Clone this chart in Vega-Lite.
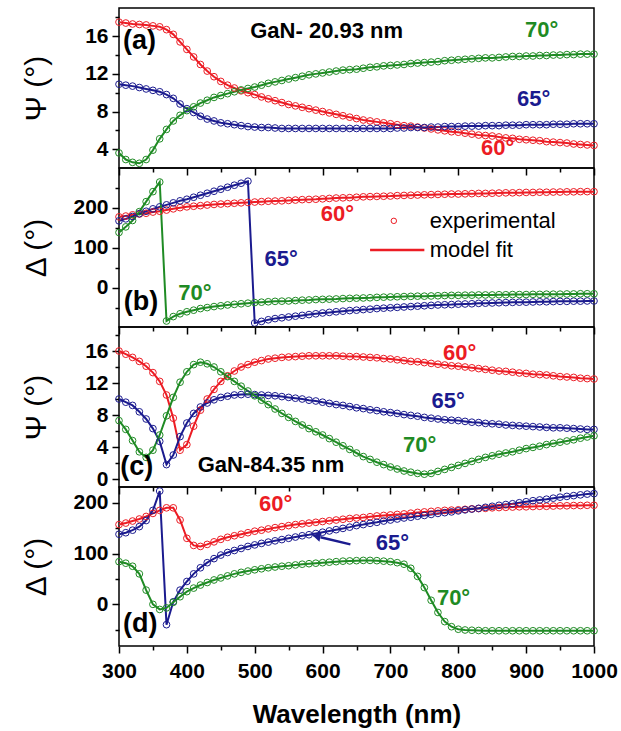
{
"$schema": "https://vega.github.io/schema/vega-lite/v6.json",
"padding": {"left": 20, "top": 7, "right": 5, "bottom": 5},
"spacing": 0,
"bounds": "flush",
"config": {
 "font": "Liberation Sans",
 "view": {"stroke": "black", "strokeWidth": 1.5},
 "axis": {"domain": false, "grid": false, "tickColor": "black", "tickWidth": 1.5, "labelFont": "Liberation Sans", "labelFontSize": 21, "labelFontWeight": "bold", "labelColor": "black", "titleFont": "Liberation Sans", "titleFontSize": 30, "titleFontWeight": "normal", "titleColor": "black", "labelOverlap": false, "labelFlush": false}
},
"datasets": {
"pa": [
{"w":300,"deg60":17.5,"deg65":10.9,"deg70":3.6},{"w":310,"deg60":17.4,"deg65":10.8,"deg70":2.9},{"w":320,"deg60":17.3,"deg65":10.7,"deg70":2.6},{"w":330,"deg60":17.25,"deg65":10.55,"deg70":2.5},{"w":340,"deg60":17.2,"deg65":10.4,"deg70":2.9},{"w":350,"deg60":17.1,"deg65":10.25,"deg70":3.9},{"w":360,"deg60":17.0,"deg65":10.1,"deg70":5.1},{"w":370,"deg60":16.7,"deg65":9.8,"deg70":6.1},{"w":380,"deg60":16.2,"deg65":9.4,"deg70":7.0},{"w":390,"deg60":15.4,"deg65":8.8,"deg70":7.6},
{"w":400,"deg60":14.6,"deg65":8.3,"deg70":8.1},{"w":410,"deg60":13.8,"deg65":7.9,"deg70":8.5},{"w":420,"deg60":13.0,"deg65":7.5,"deg70":8.9},{"w":430,"deg60":12.3,"deg65":7.2,"deg70":9.2},{"w":440,"deg60":11.7,"deg65":7.0,"deg70":9.5},{"w":450,"deg60":11.2,"deg65":6.8,"deg70":9.7},{"w":460,"deg60":10.8,"deg65":6.7,"deg70":9.9},{"w":470,"deg60":10.5,"deg65":6.6,"deg70":10.1},{"w":480,"deg60":10.2,"deg65":6.5,"deg70":10.3},{"w":490,"deg60":10.0,"deg65":6.4,"deg70":10.45},
{"w":500,"deg60":9.8,"deg65":6.35,"deg70":10.6},{"w":510,"deg60":9.55,"deg65":6.3,"deg70":10.8},{"w":520,"deg60":9.35,"deg65":6.3,"deg70":11.0},{"w":530,"deg60":9.15,"deg65":6.25,"deg70":11.15},{"w":540,"deg60":8.95,"deg65":6.2,"deg70":11.3},{"w":550,"deg60":8.75,"deg65":6.2,"deg70":11.45},{"w":560,"deg60":8.6,"deg65":6.2,"deg70":11.6},{"w":570,"deg60":8.45,"deg65":6.2,"deg70":11.75},{"w":580,"deg60":8.3,"deg65":6.2,"deg70":11.9},{"w":590,"deg60":8.15,"deg65":6.2,"deg70":12.0},
{"w":600,"deg60":8.0,"deg65":6.2,"deg70":12.1},{"w":610,"deg60":7.85,"deg65":6.2,"deg70":12.2},{"w":620,"deg60":7.7,"deg65":6.2,"deg70":12.3},{"w":630,"deg60":7.55,"deg65":6.2,"deg70":12.4},{"w":640,"deg60":7.4,"deg65":6.2,"deg70":12.45},{"w":650,"deg60":7.25,"deg65":6.2,"deg70":12.5},{"w":660,"deg60":7.1,"deg65":6.2,"deg70":12.6},{"w":670,"deg60":7.0,"deg65":6.2,"deg70":12.7},{"w":680,"deg60":6.9,"deg65":6.2,"deg70":12.75},{"w":690,"deg60":6.8,"deg65":6.2,"deg70":12.85},
{"w":700,"deg60":6.7,"deg65":6.2,"deg70":12.9},{"w":710,"deg60":6.6,"deg65":6.25,"deg70":12.95},{"w":720,"deg60":6.5,"deg65":6.25,"deg70":13.0},{"w":730,"deg60":6.45,"deg65":6.3,"deg70":13.1},{"w":740,"deg60":6.35,"deg65":6.3,"deg70":13.15},{"w":750,"deg60":6.25,"deg65":6.3,"deg70":13.2},{"w":760,"deg60":6.15,"deg65":6.35,"deg70":13.25},{"w":770,"deg60":6.05,"deg65":6.35,"deg70":13.3},{"w":780,"deg60":5.95,"deg65":6.4,"deg70":13.4},{"w":790,"deg60":5.85,"deg65":6.4,"deg70":13.45},
{"w":800,"deg60":5.8,"deg65":6.4,"deg70":13.5},{"w":810,"deg60":5.7,"deg65":6.45,"deg70":13.55},{"w":820,"deg60":5.6,"deg65":6.45,"deg70":13.6},{"w":830,"deg60":5.5,"deg65":6.45,"deg70":13.65},{"w":840,"deg60":5.45,"deg65":6.5,"deg70":13.7},{"w":850,"deg60":5.4,"deg65":6.5,"deg70":13.7},{"w":860,"deg60":5.3,"deg65":6.5,"deg70":13.75},{"w":870,"deg60":5.2,"deg65":6.55,"deg70":13.8},{"w":880,"deg60":5.15,"deg65":6.55,"deg70":13.85},{"w":890,"deg60":5.05,"deg65":6.55,"deg70":13.85},
{"w":900,"deg60":5.0,"deg65":6.6,"deg70":13.9},{"w":910,"deg60":4.95,"deg65":6.6,"deg70":13.9},{"w":920,"deg60":4.9,"deg65":6.6,"deg70":13.95},{"w":930,"deg60":4.8,"deg65":6.6,"deg70":13.95},{"w":940,"deg60":4.75,"deg65":6.65,"deg70":14.0},{"w":950,"deg60":4.7,"deg65":6.65,"deg70":14.0},{"w":960,"deg60":4.65,"deg65":6.65,"deg70":14.05},{"w":970,"deg60":4.55,"deg65":6.7,"deg70":14.05},{"w":980,"deg60":4.5,"deg65":6.7,"deg70":14.1},{"w":990,"deg60":4.45,"deg65":6.7,"deg70":14.1},
{"w":1000,"deg60":4.4,"deg65":6.7,"deg70":14.1}
],
"pb": [
{"w":300,"deg60":177,"deg65":167,"deg70":138},{"w":310,"deg60":179,"deg65":172,"deg70":152},{"w":320,"deg60":182,"deg65":178,"deg70":168},{"w":330,"deg60":184,"deg65":185,"deg70":190},{"w":340,"deg60":186,"deg65":191,"deg70":215},{"w":350,"deg60":189,"deg65":197,"deg70":240},{"w":360,"deg60":191,"deg65":202,"deg70":264},{"w":370,"deg60":194,"deg65":207,"deg70":-83},{"w":380,"deg60":197,"deg65":212,"deg70":-72},{"w":390,"deg60":200,"deg65":217,"deg70":-65},
{"w":400,"deg60":202,"deg65":221,"deg70":-60},{"w":410,"deg60":203.5,"deg65":226,"deg70":-56},{"w":420,"deg60":205,"deg65":231,"deg70":-52},{"w":430,"deg60":206.5,"deg65":236,"deg70":-49.5},{"w":440,"deg60":208,"deg65":241,"deg70":-47},{"w":450,"deg60":209,"deg65":246,"deg70":-45},{"w":460,"deg60":210,"deg65":251,"deg70":-43},{"w":470,"deg60":211,"deg65":256,"deg70":-41.5},{"w":480,"deg60":212,"deg65":261,"deg70":-40},{"w":490,"deg60":213,"deg65":266,"deg70":-38.5},
{"w":500,"deg60":214,"deg65":-88,"deg70":-37},{"w":510,"deg60":215,"deg65":-84,"deg70":-36},{"w":520,"deg60":216,"deg65":-80,"deg70":-35},{"w":530,"deg60":216.5,"deg65":-77,"deg70":-34},{"w":540,"deg60":217,"deg65":-75,"deg70":-33.5},{"w":550,"deg60":218,"deg65":-73,"deg70":-33},{"w":560,"deg60":219,"deg65":-71,"deg70":-32},{"w":570,"deg60":220,"deg65":-69,"deg70":-31},{"w":580,"deg60":220.5,"deg65":-67,"deg70":-30.5},{"w":590,"deg60":221,"deg65":-65,"deg70":-29.5},
{"w":600,"deg60":222,"deg65":-63,"deg70":-29},{"w":610,"deg60":223,"deg65":-61.5,"deg70":-28.5},{"w":620,"deg60":224,"deg65":-60,"deg70":-28},{"w":630,"deg60":224.5,"deg65":-58.5,"deg70":-27},{"w":640,"deg60":225,"deg65":-57,"deg70":-26.5},{"w":650,"deg60":226,"deg65":-56,"deg70":-26},{"w":660,"deg60":227,"deg65":-54.5,"deg70":-25.5},{"w":670,"deg60":227.5,"deg65":-53.5,"deg70":-25},{"w":680,"deg60":228,"deg65":-52,"deg70":-24},{"w":690,"deg60":228.5,"deg65":-51,"deg70":-23.5},
{"w":700,"deg60":229,"deg65":-50,"deg70":-23},{"w":710,"deg60":230,"deg65":-49,"deg70":-22.5},{"w":720,"deg60":230.5,"deg65":-48,"deg70":-22},{"w":730,"deg60":231,"deg65":-47,"deg70":-21.5},{"w":740,"deg60":231.5,"deg65":-46,"deg70":-21},{"w":750,"deg60":232,"deg65":-45,"deg70":-21},{"w":760,"deg60":232.5,"deg65":-44,"deg70":-20.5},{"w":770,"deg60":233,"deg65":-43,"deg70":-20},{"w":780,"deg60":233.5,"deg65":-42.5,"deg70":-19.5},{"w":790,"deg60":234,"deg65":-42,"deg70":-19},
{"w":800,"deg60":234,"deg65":-41,"deg70":-19},{"w":810,"deg60":234.5,"deg65":-40.5,"deg70":-18.5},{"w":820,"deg60":235,"deg65":-40,"deg70":-18.5},{"w":830,"deg60":235.5,"deg65":-39,"deg70":-18},{"w":840,"deg60":235.5,"deg65":-38.5,"deg70":-18},{"w":850,"deg60":236,"deg65":-38,"deg70":-18},{"w":860,"deg60":236.5,"deg65":-37.5,"deg70":-17.5},{"w":870,"deg60":237,"deg65":-37,"deg70":-17.5},{"w":880,"deg60":237,"deg65":-36.5,"deg70":-17},{"w":890,"deg60":237.5,"deg65":-36,"deg70":-17},
{"w":900,"deg60":238,"deg65":-36,"deg70":-17},{"w":910,"deg60":238,"deg65":-35.5,"deg70":-16.5},{"w":920,"deg60":238.5,"deg65":-35,"deg70":-16.5},{"w":930,"deg60":238.5,"deg65":-35,"deg70":-16},{"w":940,"deg60":239,"deg65":-34.5,"deg70":-16},{"w":950,"deg60":239,"deg65":-34,"deg70":-16},{"w":960,"deg60":239.5,"deg65":-34,"deg70":-15.5},{"w":970,"deg60":239.5,"deg65":-33.5,"deg70":-15.5},{"w":980,"deg60":240,"deg65":-33.5,"deg70":-15},{"w":990,"deg60":240,"deg65":-33,"deg70":-15},
{"w":1000,"deg60":240,"deg65":-33,"deg70":-15}
],
"pc": [
{"w":300,"deg60":16.0,"deg65":10.0,"deg70":7.3},{"w":310,"deg60":15.6,"deg65":9.6,"deg70":6.2},{"w":320,"deg60":15.2,"deg65":9.2,"deg70":4.8},{"w":330,"deg60":14.7,"deg65":8.4,"deg70":3.4},{"w":340,"deg60":14.1,"deg65":7.5,"deg70":2.7},{"w":350,"deg60":13.3,"deg65":6.3,"deg70":3.6},{"w":360,"deg60":12.2,"deg65":4.7,"deg70":5.5},{"w":370,"deg60":10.5,"deg65":1.8,"deg70":7.9},{"w":380,"deg60":7.6,"deg65":3.0,"deg70":10.2},{"w":390,"deg60":3.6,"deg65":5.3,"deg70":12.1},
{"w":400,"deg60":4.3,"deg65":7.0,"deg70":13.4},{"w":410,"deg60":6.6,"deg65":8.2,"deg70":14.3},{"w":420,"deg60":8.6,"deg65":9.0,"deg70":14.6},{"w":430,"deg60":10.0,"deg65":9.5,"deg70":14.4},{"w":440,"deg60":11.2,"deg65":9.9,"deg70":14.0},{"w":450,"deg60":12.2,"deg65":10.2,"deg70":13.4},{"w":460,"deg60":12.9,"deg65":10.35,"deg70":12.8},{"w":470,"deg60":13.5,"deg65":10.5,"deg70":12.2},{"w":480,"deg60":14.0,"deg65":10.55,"deg70":11.6},{"w":490,"deg60":14.3,"deg65":10.6,"deg70":11.0},
{"w":500,"deg60":14.6,"deg65":10.55,"deg70":10.4},{"w":510,"deg60":14.8,"deg65":10.5,"deg70":9.85},{"w":520,"deg60":15.0,"deg65":10.45,"deg70":9.3},{"w":530,"deg60":15.1,"deg65":10.4,"deg70":8.75},{"w":540,"deg60":15.2,"deg65":10.3,"deg70":8.2},{"w":550,"deg60":15.25,"deg65":10.2,"deg70":7.7},{"w":560,"deg60":15.3,"deg65":10.1,"deg70":7.2},{"w":570,"deg60":15.35,"deg65":10.0,"deg70":6.75},{"w":580,"deg60":15.4,"deg65":9.85,"deg70":6.3},{"w":590,"deg60":15.4,"deg65":9.75,"deg70":5.9},
{"w":600,"deg60":15.4,"deg65":9.6,"deg70":5.5},{"w":610,"deg60":15.4,"deg65":9.45,"deg70":5.05},{"w":620,"deg60":15.4,"deg65":9.3,"deg70":4.6},{"w":630,"deg60":15.35,"deg65":9.2,"deg70":4.15},{"w":640,"deg60":15.3,"deg65":9.05,"deg70":3.7},{"w":650,"deg60":15.3,"deg65":8.9,"deg70":3.25},{"w":660,"deg60":15.25,"deg65":8.8,"deg70":2.8},{"w":670,"deg60":15.2,"deg65":8.65,"deg70":2.45},{"w":680,"deg60":15.15,"deg65":8.55,"deg70":2.1},{"w":690,"deg60":15.05,"deg65":8.4,"deg70":1.8},
{"w":700,"deg60":15.0,"deg65":8.3,"deg70":1.5},{"w":710,"deg60":14.9,"deg65":8.2,"deg70":1.25},{"w":720,"deg60":14.8,"deg65":8.05,"deg70":1.0},{"w":730,"deg60":14.7,"deg65":7.95,"deg70":0.85},{"w":740,"deg60":14.65,"deg65":7.85,"deg70":0.7},{"w":750,"deg60":14.55,"deg65":7.7,"deg70":0.6},{"w":760,"deg60":14.45,"deg65":7.6,"deg70":0.7},{"w":770,"deg60":14.35,"deg65":7.5,"deg70":0.95},{"w":780,"deg60":14.25,"deg65":7.4,"deg70":1.2},{"w":790,"deg60":14.15,"deg65":7.35,"deg70":1.45},
{"w":800,"deg60":14.1,"deg65":7.3,"deg70":1.7},{"w":810,"deg60":14.0,"deg65":7.2,"deg70":1.95},{"w":820,"deg60":13.9,"deg65":7.1,"deg70":2.2},{"w":830,"deg60":13.8,"deg65":7.05,"deg70":2.45},{"w":840,"deg60":13.7,"deg65":6.95,"deg70":2.7},{"w":850,"deg60":13.6,"deg65":6.9,"deg70":2.9},{"w":860,"deg60":13.5,"deg65":6.85,"deg70":3.1},{"w":870,"deg60":13.45,"deg65":6.75,"deg70":3.25},{"w":880,"deg60":13.35,"deg65":6.7,"deg70":3.4},{"w":890,"deg60":13.25,"deg65":6.65,"deg70":3.6},
{"w":900,"deg60":13.2,"deg65":6.6,"deg70":3.8},{"w":910,"deg60":13.1,"deg65":6.55,"deg70":3.95},{"w":920,"deg60":13.05,"deg65":6.5,"deg70":4.1},{"w":930,"deg60":13.0,"deg65":6.45,"deg70":4.3},{"w":940,"deg60":12.9,"deg65":6.4,"deg70":4.45},{"w":950,"deg60":12.8,"deg65":6.4,"deg70":4.6},{"w":960,"deg60":12.75,"deg65":6.35,"deg70":4.75},{"w":970,"deg60":12.7,"deg65":6.3,"deg70":4.9},{"w":980,"deg60":12.6,"deg65":6.25,"deg70":5.1},{"w":990,"deg60":12.55,"deg65":6.2,"deg70":5.25},
{"w":1000,"deg60":12.5,"deg65":6.2,"deg70":5.4}
],
"pd": [
{"w":300,"deg60":157,"deg65":138,"deg70":84},{"w":310,"deg60":160,"deg65":141,"deg70":81},{"w":320,"deg60":164,"deg65":146,"deg70":75},{"w":330,"deg60":168,"deg65":153,"deg70":60},{"w":340,"deg60":173,"deg65":165,"deg70":28},{"w":350,"deg60":179,"deg65":185,"deg70":0},{"w":360,"deg60":185,"deg65":223,"deg70":-10},{"w":370,"deg60":190,"deg65":-40,"deg70":-7},{"w":380,"deg60":190,"deg65":5,"deg70":4},{"w":390,"deg60":166,"deg65":28,"deg70":15},
{"w":400,"deg60":130,"deg65":45,"deg70":25},{"w":410,"deg60":116,"deg65":60,"deg70":32},{"w":420,"deg60":114,"deg65":72,"deg70":38},{"w":430,"deg60":118,"deg65":82,"deg70":43},{"w":440,"deg60":123,"deg65":90,"deg70":48},{"w":450,"deg60":128,"deg65":97,"deg70":52},{"w":460,"deg60":132,"deg65":102,"deg70":56},{"w":470,"deg60":135,"deg65":106,"deg70":60},{"w":480,"deg60":138,"deg65":110,"deg70":63},{"w":490,"deg60":141,"deg65":114,"deg70":65.5},
{"w":500,"deg60":144,"deg65":117,"deg70":68},{"w":510,"deg60":146,"deg65":120,"deg70":70},{"w":520,"deg60":148.5,"deg65":122.5,"deg70":72},{"w":530,"deg60":151,"deg65":125,"deg70":73.5},{"w":540,"deg60":153,"deg65":127.5,"deg70":75},{"w":550,"deg60":155,"deg65":130,"deg70":76},{"w":560,"deg60":157,"deg65":132.5,"deg70":77.5},{"w":570,"deg60":158.5,"deg65":135,"deg70":79},{"w":580,"deg60":160,"deg65":137,"deg70":80},{"w":590,"deg60":161.5,"deg65":139.5,"deg70":81},
{"w":600,"deg60":163,"deg65":142,"deg70":82},{"w":610,"deg60":164.5,"deg65":144.5,"deg70":83},{"w":620,"deg60":166,"deg65":147,"deg70":84},{"w":630,"deg60":167.5,"deg65":149.5,"deg70":85},{"w":640,"deg60":169,"deg65":152,"deg70":85.5},{"w":650,"deg60":170,"deg65":155,"deg70":86},{"w":660,"deg60":171,"deg65":157,"deg70":86.5},{"w":670,"deg60":172.5,"deg65":159.5,"deg70":86.5},{"w":680,"deg60":174,"deg65":161.5,"deg70":86},{"w":690,"deg60":175,"deg65":164,"deg70":85},
{"w":700,"deg60":176,"deg65":166,"deg70":84},{"w":710,"deg60":177,"deg65":168,"deg70":82},{"w":720,"deg60":178,"deg65":170,"deg70":79},{"w":730,"deg60":179.5,"deg65":171.5,"deg70":71},{"w":740,"deg60":181,"deg65":173.5,"deg70":55},{"w":750,"deg60":182,"deg65":175,"deg70":33},{"w":760,"deg60":183,"deg65":177,"deg70":8},{"w":770,"deg60":184,"deg65":179,"deg70":-16},{"w":780,"deg60":185,"deg65":180.5,"deg70":-34},{"w":790,"deg60":185.5,"deg65":182,"deg70":-44},
{"w":800,"deg60":186,"deg65":184,"deg70":-49},{"w":810,"deg60":187,"deg65":186,"deg70":-50.5},{"w":820,"deg60":188,"deg65":187.5,"deg70":-51},{"w":830,"deg60":188.5,"deg65":189,"deg70":-51.5},{"w":840,"deg60":189,"deg65":191,"deg70":-52},{"w":850,"deg60":190,"deg65":193,"deg70":-52},{"w":860,"deg60":190.5,"deg65":195,"deg70":-52},{"w":870,"deg60":191,"deg65":196.5,"deg70":-52},{"w":880,"deg60":191.5,"deg65":198,"deg70":-52},{"w":890,"deg60":192,"deg65":200,"deg70":-52},
{"w":900,"deg60":192,"deg65":202,"deg70":-52},{"w":910,"deg60":192.5,"deg65":204,"deg70":-52},{"w":920,"deg60":193,"deg65":205.5,"deg70":-52},{"w":930,"deg60":193,"deg65":207,"deg70":-52},{"w":940,"deg60":193.5,"deg65":209,"deg70":-52},{"w":950,"deg60":194,"deg65":211,"deg70":-52},{"w":960,"deg60":194,"deg65":212.5,"deg70":-52},{"w":970,"deg60":194.5,"deg65":214,"deg70":-52},{"w":980,"deg60":194.5,"deg65":215.5,"deg70":-52},{"w":990,"deg60":195,"deg65":217,"deg70":-52},
{"w":1000,"deg60":195,"deg65":218,"deg70":-52}
]
},
"vconcat": [
{
 "width": 475, "height": 160,
 "resolve": {"axis": {"x": "independent", "y": "independent"}},
 "layer": [
  {"data": {"name": "pa"}, "transform": [{"fold": ["deg60","deg65","deg70"], "as": ["angle","v"]}],
   "mark": {"type": "line", "strokeWidth": 2},
   "encoding": {
    "x": {"field": "w", "type": "quantitative", "scale": {"domain": [300,1000], "nice": false}, "axis": {"orient": "bottom", "values": [300,400,500,600,700,800,900,1000], "labels": false, "title": null, "tickSize": 7}},
    "y": {"field": "v", "type": "quantitative", "scale": {"domain": [2,19], "nice": false, "zero": false}, "axis": {"orient": "left", "values": [4,8,12,16], "title": "Ψ (°)", "titleX": -83, "titleBaseline": "middle", "labelPadding": 4, "tickSize": 7}},
    "color": {"field": "angle", "type": "nominal", "scale": {"domain": ["deg60","deg65","deg70"], "range": ["#ec1c24","#1b1b8f","#1f8b24"]}, "legend": null}
   }},
  {"data": {"name": "pa"}, "transform": [{"fold": ["deg60","deg65","deg70"], "as": ["angle","v"]}],
   "mark": {"type": "point", "shape": "circle", "filled": false, "size": 45, "strokeWidth": 1, "opacity": 1},
   "encoding": {
    "x": {"field": "w", "type": "quantitative", "axis": {"orient": "bottom", "values": [350,450,550,650,750,850,950], "labels": false, "title": null, "tickSize": 4}},
    "y": {"field": "v", "type": "quantitative", "axis": {"orient": "left", "values": [6,10,14,18], "labels": false, "title": null, "tickSize": 4}},
    "color": {"field": "angle", "type": "nominal"}}},
  {"data": {"values": [{"w": 306, "v": 15.5, "t": "(a)"}]},
   "mark": {"type": "text", "align": "left", "baseline": "middle", "fontSize": 27, "fontWeight": "bold", "color": "black"},
   "encoding": {"x": {"field": "w", "type": "quantitative", "axis": null}, "y": {"field": "v", "type": "quantitative", "axis": null}, "text": {"field": "t"}}},
  {"data": {"values": [{"w": 606, "v": 16.6, "t": "GaN- 20.93 nm"}]},
   "mark": {"type": "text", "align": "center", "baseline": "middle", "fontSize": 22, "fontWeight": "bold", "color": "black"},
   "encoding": {"x": {"field": "w", "type": "quantitative", "axis": null}, "y": {"field": "v", "type": "quantitative", "axis": null}, "text": {"field": "t"}}},
  {"data": {"values": [{"w": 923, "v": 16.7, "angle": "deg70", "t": "70°"}, {"w": 911, "v": 9.3, "angle": "deg65", "t": "65°"}, {"w": 858, "v": 4.1, "angle": "deg60", "t": "60°"}]},
   "mark": {"type": "text", "align": "center", "baseline": "middle", "fontSize": 22, "fontWeight": "bold"},
   "encoding": {"x": {"field": "w", "type": "quantitative", "axis": null}, "y": {"field": "v", "type": "quantitative", "axis": null}, "text": {"field": "t"}, "color": {"field": "angle", "type": "nominal"}}}
 ]
},
{
 "width": 475, "height": 159,
 "resolve": {"axis": {"x": "independent", "y": "independent"}},
 "layer": [
  {"data": {"name": "pb"}, "transform": [{"fold": ["deg60","deg65","deg70"], "as": ["angle","v"]}],
   "mark": {"type": "line", "strokeWidth": 2},
   "encoding": {
    "x": {"field": "w", "type": "quantitative", "scale": {"domain": [300,1000], "nice": false}, "axis": {"orient": "bottom", "values": [300,400,500,600,700,800,900,1000], "labels": false, "title": null, "tickSize": 7}},
    "y": {"field": "v", "type": "quantitative", "scale": {"domain": [-98,299], "nice": false, "zero": false}, "axis": {"orient": "left", "values": [0,100,200], "title": "Δ (°)", "titleX": -83, "titleBaseline": "middle", "labelPadding": 4, "tickSize": 7}},
    "color": {"field": "angle", "type": "nominal", "scale": {"domain": ["deg60","deg65","deg70"], "range": ["#ec1c24","#1b1b8f","#1f8b24"]}, "legend": null}
   }},
  {"data": {"name": "pb"}, "transform": [{"fold": ["deg60","deg65","deg70"], "as": ["angle","v"]}],
   "mark": {"type": "point", "shape": "circle", "filled": false, "size": 45, "strokeWidth": 1, "opacity": 1},
   "encoding": {
    "x": {"field": "w", "type": "quantitative", "axis": {"orient": "bottom", "values": [350,450,550,650,750,850,950], "labels": false, "title": null, "tickSize": 4}},
    "y": {"field": "v", "type": "quantitative", "axis": {"orient": "left", "values": [-50,50,150,250], "labels": false, "title": null, "tickSize": 4}},
    "color": {"field": "angle", "type": "nominal"}}},
  {"data": {"values": [{"w": 307, "v": -36, "t": "(b)"}]},
   "mark": {"type": "text", "align": "left", "baseline": "middle", "fontSize": 27, "fontWeight": "bold", "color": "black"},
   "encoding": {"x": {"field": "w", "type": "quantitative", "axis": null}, "y": {"field": "v", "type": "quantitative", "axis": null}, "text": {"field": "t"}}},
  {"data": {"values": [{"w": 412, "v": -14, "angle": "deg70", "t": "70°"}, {"w": 539, "v": 73, "angle": "deg65", "t": "65°"}, {"w": 622, "v": 185, "angle": "deg60", "t": "60°"}]},
   "mark": {"type": "text", "align": "center", "baseline": "middle", "fontSize": 22, "fontWeight": "bold"},
   "encoding": {"x": {"field": "w", "type": "quantitative", "axis": null}, "y": {"field": "v", "type": "quantitative", "axis": null}, "text": {"field": "t"}, "color": {"field": "angle", "type": "nominal"}}},
  {"data": {"values": [{"w": 705, "v": 167}]},
   "mark": {"type": "point", "shape": "circle", "filled": false, "size": 30, "strokeWidth": 1, "color": "#ec1c24", "opacity": 1},
   "encoding": {"x": {"field": "w", "type": "quantitative", "axis": null}, "y": {"field": "v", "type": "quantitative", "axis": null}}},
  {"data": {"values": [{"w": 670, "w2": 750, "v": 94}]},
   "mark": {"type": "rule", "strokeWidth": 2.5, "color": "#ec1c24"},
   "encoding": {"x": {"field": "w", "type": "quantitative", "axis": null}, "x2": {"field": "w2"}, "y": {"field": "v", "type": "quantitative", "axis": null}}},
  {"data": {"values": [{"w": 758, "v": 167, "t": "experimental"}, {"w": 758, "v": 94, "t": "model fit"}]},
   "mark": {"type": "text", "align": "left", "baseline": "middle", "fontSize": 22, "color": "black"},
   "encoding": {"x": {"field": "w", "type": "quantitative", "axis": null}, "y": {"field": "v", "type": "quantitative", "axis": null}, "text": {"field": "t"}}}
 ]
},
{
 "width": 475, "height": 160,
 "resolve": {"axis": {"x": "independent", "y": "independent"}},
 "layer": [
  {"data": {"name": "pc"}, "transform": [{"fold": ["deg60","deg65","deg70"], "as": ["angle","v"]}],
   "mark": {"type": "line", "strokeWidth": 2},
   "encoding": {
    "x": {"field": "w", "type": "quantitative", "scale": {"domain": [300,1000], "nice": false}, "axis": {"orient": "bottom", "values": [300,400,500,600,700,800,900,1000], "labels": false, "title": null, "tickSize": 7}},
    "y": {"field": "v", "type": "quantitative", "scale": {"domain": [-1,19], "nice": false, "zero": false}, "axis": {"orient": "left", "values": [0,4,8,12,16], "title": "Ψ (°)", "titleX": -83, "titleBaseline": "middle", "labelPadding": 4, "tickSize": 7}},
    "color": {"field": "angle", "type": "nominal", "scale": {"domain": ["deg60","deg65","deg70"], "range": ["#ec1c24","#1b1b8f","#1f8b24"]}, "legend": null}
   }},
  {"data": {"name": "pc"}, "transform": [{"fold": ["deg60","deg65","deg70"], "as": ["angle","v"]}],
   "mark": {"type": "point", "shape": "circle", "filled": false, "size": 45, "strokeWidth": 1, "opacity": 1},
   "encoding": {
    "x": {"field": "w", "type": "quantitative", "axis": {"orient": "bottom", "values": [350,450,550,650,750,850,950], "labels": false, "title": null, "tickSize": 4}},
    "y": {"field": "v", "type": "quantitative", "axis": {"orient": "left", "values": [2,6,10,14,18], "labels": false, "title": null, "tickSize": 4}},
    "color": {"field": "angle", "type": "nominal"}}},
  {"data": {"values": [{"w": 302, "v": 1.5, "t": "(c)"}]},
   "mark": {"type": "text", "align": "left", "baseline": "middle", "fontSize": 27, "fontWeight": "bold", "color": "black"},
   "encoding": {"x": {"field": "w", "type": "quantitative", "axis": null}, "y": {"field": "v", "type": "quantitative", "axis": null}, "text": {"field": "t"}}},
  {"data": {"values": [{"w": 524, "v": 1.7, "t": "GaN-84.35 nm"}]},
   "mark": {"type": "text", "align": "center", "baseline": "middle", "fontSize": 22, "fontWeight": "bold", "color": "black"},
   "encoding": {"x": {"field": "w", "type": "quantitative", "axis": null}, "y": {"field": "v", "type": "quantitative", "axis": null}, "text": {"field": "t"}}},
  {"data": {"values": [{"w": 802, "v": 15.8, "angle": "deg60", "t": "60°"}, {"w": 785, "v": 9.7, "angle": "deg65", "t": "65°"}, {"w": 743, "v": 4.2, "angle": "deg70", "t": "70°"}]},
   "mark": {"type": "text", "align": "center", "baseline": "middle", "fontSize": 22, "fontWeight": "bold"},
   "encoding": {"x": {"field": "w", "type": "quantitative", "axis": null}, "y": {"field": "v", "type": "quantitative", "axis": null}, "text": {"field": "t"}, "color": {"field": "angle", "type": "nominal"}}}
 ]
},
{
 "width": 475, "height": 159,
 "resolve": {"axis": {"x": "independent", "y": "independent"}},
 "layer": [
  {"data": {"name": "pd"}, "transform": [{"fold": ["deg60","deg65","deg70"], "as": ["angle","v"]}],
   "mark": {"type": "line", "strokeWidth": 2},
   "encoding": {
    "x": {"field": "w", "type": "quantitative", "scale": {"domain": [300,1000], "nice": false}, "axis": {"orient": "bottom", "values": [300,400,500,600,700,800,900,1000], "format": "d", "labelPadding": 7, "title": "Wavelength (nm)", "titleFontSize": 26, "titleFontWeight": "bold", "titlePadding": 20, "tickSize": 7}},
    "y": {"field": "v", "type": "quantitative", "scale": {"domain": [-82,231], "nice": false, "zero": false}, "axis": {"orient": "left", "values": [0,100,200], "title": "Δ (°)", "titleX": -83, "titleBaseline": "middle", "labelPadding": 4, "tickSize": 7}},
    "color": {"field": "angle", "type": "nominal", "scale": {"domain": ["deg60","deg65","deg70"], "range": ["#ec1c24","#1b1b8f","#1f8b24"]}, "legend": null}
   }},
  {"data": {"name": "pd"}, "transform": [{"fold": ["deg60","deg65","deg70"], "as": ["angle","v"]}],
   "mark": {"type": "point", "shape": "circle", "filled": false, "size": 45, "strokeWidth": 1, "opacity": 1},
   "encoding": {
    "x": {"field": "w", "type": "quantitative", "axis": {"orient": "bottom", "values": [350,450,550,650,750,850,950], "labels": false, "title": null, "tickSize": 4}},
    "y": {"field": "v", "type": "quantitative", "axis": {"orient": "left", "values": [-50,50,150], "labels": false, "title": null, "tickSize": 4}},
    "color": {"field": "angle", "type": "nominal"}}},
  {"data": {"values": [{"w": 306, "v": -38, "t": "(d)"}]},
   "mark": {"type": "text", "align": "left", "baseline": "middle", "fontSize": 27, "fontWeight": "bold", "color": "black"},
   "encoding": {"x": {"field": "w", "type": "quantitative", "axis": null}, "y": {"field": "v", "type": "quantitative", "axis": null}, "text": {"field": "t"}}},
  {"data": {"values": [{"w": 531, "v": 197, "angle": "deg60", "t": "60°"}, {"w": 703, "v": 121, "angle": "deg65", "t": "65°"}, {"w": 793, "v": 13, "angle": "deg70", "t": "70°"}]},
   "mark": {"type": "text", "align": "center", "baseline": "middle", "fontSize": 22, "fontWeight": "bold"},
   "encoding": {"x": {"field": "w", "type": "quantitative", "axis": null}, "y": {"field": "v", "type": "quantitative", "axis": null}, "text": {"field": "t"}, "color": {"field": "angle", "type": "nominal"}}},
  {"data": {"values": [{"w": 641, "v": 118, "w2": 597, "v2": 132}]},
   "mark": {"type": "rule", "strokeWidth": 2.5, "color": "#1b1b8f"},
   "encoding": {"x": {"field": "w", "type": "quantitative", "axis": null}, "x2": {"field": "w2"}, "y": {"field": "v", "type": "quantitative", "axis": null}, "y2": {"field": "v2"}}},
  {"data": {"values": [{"w": 591, "v": 134}]},
   "mark": {"type": "point", "shape": "triangle-left", "filled": true, "size": 90, "angle": 13, "color": "#1b1b8f", "opacity": 1},
   "encoding": {"x": {"field": "w", "type": "quantitative", "axis": null}, "y": {"field": "v", "type": "quantitative", "axis": null}}}
 ]
}
]
}
